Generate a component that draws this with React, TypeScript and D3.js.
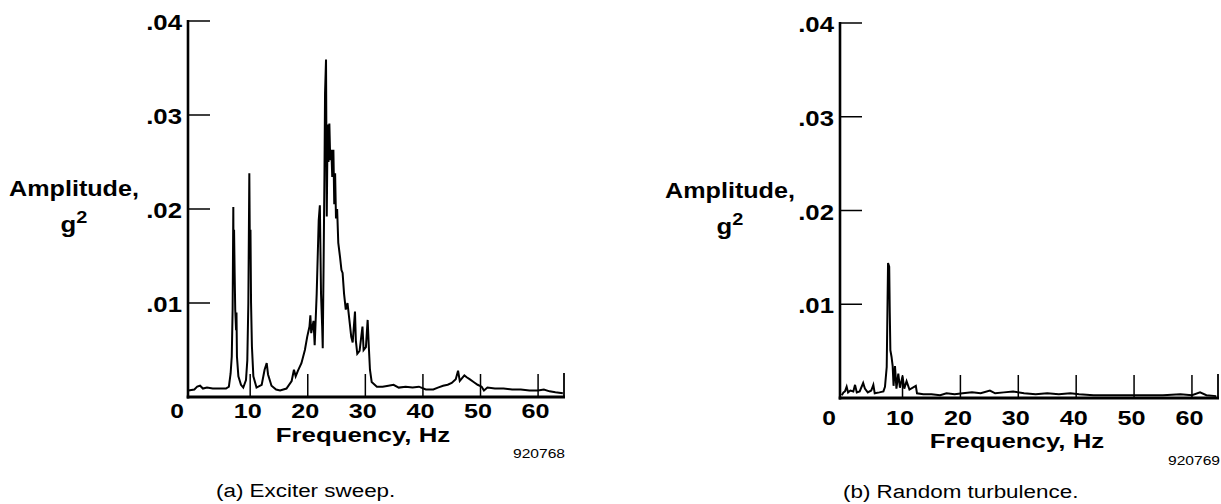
import React from "react";
import * as d3 from "d3";

// Power spectral density, exciter sweep (Hz, g^2)
const sweepHz = [
  -0.75, 0.3, 0.8, 1.3, 1.8, 2.5, 3.5, 4.8, 5.8, 6.3, 6.6, 6.8, 6.95, 7.07, 7.12, 7.2, 7.3, 7.4, 7.55, 7.62,
  7.7, 7.95, 8.4, 8.8, 9.27, 9.5, 9.68, 9.85, 9.95, 10.05, 10.15, 10.3, 10.55, 11.1, 12.0, 12.5, 12.87, 13.1,
  13.7, 14.5, 15.2, 16.3, 17.2, 17.6, 17.9, 18.3, 18.9, 19.5, 19.9, 20.3, 20.45, 20.6, 21.0, 21.2, 21.55, 21.9,
  22.1, 22.3, 22.5, 22.6, 22.75, 22.9, 23.0, 23.17, 23.3, 23.45, 23.6, 23.75, 23.9, 24.1, 24.25, 24.45, 24.6,
  24.75, 24.9, 25.1, 25.3, 25.6, 25.85, 26.05, 26.3, 26.6, 26.9, 27.3, 27.55, 27.8, 28.2, 28.35, 28.6, 29.0,
  29.5, 29.7, 30.1, 30.4, 30.6, 30.8, 31.1, 32.0, 33.0, 34.0, 34.9, 35.8, 37.0, 38.2, 39.3, 40.5, 41.8, 42.6,
  43.5, 44.3, 45.0, 45.7, 46.1, 46.4, 46.8, 47.2, 47.6, 48.1, 48.8, 49.5, 50.2, 50.6, 51.2, 52.5, 54.0, 55.5,
  57.0, 58.5, 60.0, 61.0, 62.0, 63.0, 64.3,
];
const sweepG2 = [
  0.0007, 0.0008, 0.0011, 0.0012, 0.0009, 0.001, 0.0009, 0.0009, 0.0009, 0.0011, 0.0025, 0.0043, 0.0093, 0.0202,
  0.012, 0.0178, 0.0132, 0.0093, 0.0071, 0.009, 0.0043, 0.0022, 0.0013, 0.001, 0.0018, 0.0039, 0.01, 0.0238,
  0.015, 0.0178, 0.01, 0.0054, 0.0022, 0.001, 0.0013, 0.0029, 0.0036, 0.0024, 0.0012, 0.0008, 0.0007, 0.0009,
  0.0017, 0.0029, 0.0022, 0.0028, 0.0036, 0.005, 0.0064, 0.0075, 0.0087, 0.0068, 0.0081, 0.0055, 0.011, 0.0188,
  0.0204, 0.011, 0.0075, 0.0052, 0.0142, 0.0238, 0.0323, 0.0359, 0.0192, 0.029, 0.025, 0.0291, 0.0252, 0.0263,
  0.0234, 0.0263, 0.0205, 0.0238, 0.019, 0.02, 0.0164, 0.0149, 0.0135, 0.0132, 0.011, 0.0093, 0.01, 0.0078,
  0.0064, 0.0058, 0.0091, 0.006, 0.0046, 0.0049, 0.0075, 0.005, 0.0053, 0.0082, 0.0054, 0.0029, 0.0016, 0.0011,
  0.0011, 0.0012, 0.0013, 0.001, 0.0011, 0.001, 0.0011, 0.0008, 0.0008, 0.001, 0.0012, 0.0013, 0.0015, 0.0019,
  0.0028, 0.0017, 0.002, 0.0023, 0.0021, 0.0019, 0.0016, 0.0013, 0.0011, 0.0007, 0.001, 0.0009, 0.0009, 0.0008,
  0.0008, 0.0007, 0.0007, 0.0008, 0.0006, 0.0005, 0.0004,
];

// Power spectral density, random turbulence (Hz, g^2)
const turbHz = [
  -0.5, -0.2, 0.06, 0.35, 0.6, 1.0, 1.5, 1.8, 2.1, 2.6, 3.2, 3.5, 4.0, 4.6, 4.96, 5.2, 6.0, 6.7, 6.97, 7.27, 7.5,
  7.7, 7.8, 7.9, 8.1, 8.3, 8.45, 8.7, 8.95, 9.27, 9.55, 10.0, 10.3, 10.7, 11.2, 12.3, 12.5, 13.6, 15.0, 16.5,
  17.6, 19.0, 20.4, 22.0, 23.5, 25.1, 26.0, 27.5, 29.1, 31.0, 33.0, 35.0, 37.0, 39.0, 40.5, 43.0, 46.0, 49.0,
  52.0, 55.0, 58.0, 60.0, 61.4, 62.5, 64.2,
];
const turbG2 = [
  0.0003, 0.0006, 0.0007, 0.0012, 0.0006, 0.0008, 0.0007, 0.0014, 0.0006, 0.0007, 0.0016, 0.001, 0.0006, 0.0008,
  0.0014, 0.0005, 0.0006, 0.0007, 0.0012, 0.0033, 0.0144, 0.014, 0.009, 0.0051, 0.0044, 0.0034, 0.0013, 0.0034,
  0.001, 0.0026, 0.0011, 0.0023, 0.001, 0.0018, 0.0009, 0.0013, 0.0005, 0.0004, 0.0004, 0.0003, 0.0005, 0.0004,
  0.0005, 0.0006, 0.0005, 0.0008, 0.0005, 0.0006, 0.0007, 0.0005, 0.0004, 0.0005, 0.0004, 0.0005, 0.0004, 0.0003,
  0.0003, 0.0003, 0.0003, 0.0003, 0.0004, 0.0003, 0.0006, 0.0003, 0.0002,
];

const yTicks = [0.01, 0.02, 0.03, 0.04];
const yTickLabels = [".01", ".02", ".03", ".04"];
const xTicks = [10, 20, 30, 40, 50, 60];
const xTickLabels = ["10", "20", "30", "40", "50", "60"];
const xDomain: [number, number] = [-0.8, 64.5];
const yDomain: [number, number] = [0, 0.04];

const FONT = "'Liberation Sans', Arial, Helvetica, sans-serif";
const STRETCH = 1.17;

function Txt(props: {
  x: number;
  y: number;
  anchor?: "start" | "middle" | "end";
  size: number;
  bold?: boolean;
  sx?: number;
  children: React.ReactNode;
}) {
  const { x, y, anchor = "start", size, bold = true, sx = STRETCH, children } = props;
  return (
    <text
      transform={`translate(${x},${y}) scale(${sx},1)`}
      textAnchor={anchor}
      fontSize={size}
      fontWeight={bold ? 700 : 400}
      fontFamily={FONT}
      fill="#000"
    >
      {children}
    </text>
  );
}

type PanelProps = {
  hz: number[];
  g2: number[];
  left: number;
  right: number;
  top: number;
  bottom: number;
  ampX: number;
  ampY: number;
  xLabelY: number;
  freqX: number;
  freqY: number;
  idX: number;
  idY: number;
  id: string;
  capX: number;
  capY: number;
  caption: string;
};

function Panel(p: PanelProps) {
  const x = d3.scaleLinear().domain(xDomain).range([p.left, p.right]);
  const y = d3.scaleLinear().domain(yDomain).range([p.bottom, p.top]);
  const line = d3
    .line<number>()
    .x((_, i) => x(p.hz[i]))
    .y((d) => y(d));
  const tickLen = 22;
  return (
    <g>
      <path d={line(p.g2) ?? ""} fill="none" stroke="#000" strokeWidth={2} strokeLinejoin="miter" />
      {/* y axis and left ticks */}
      <line x1={p.left} x2={p.left} y1={y(0.04) - 1} y2={p.bottom + 1.5} stroke="#000" strokeWidth={2.6} />
      {yTicks.map((t, i) => (
        <g key={t}>
          <line x1={p.left} x2={p.left + tickLen} y1={y(t)} y2={y(t)} stroke="#000" strokeWidth={1.5} />
          <Txt x={p.left - 6} y={y(t) + 9} anchor="end" size={22}>
            {yTickLabels[i]}
          </Txt>
        </g>
      ))}
      {/* x axis, ticks and end cap */}
      <line x1={p.left - 1.3} x2={p.right + 1} y1={p.bottom} y2={p.bottom} stroke="#000" strokeWidth={3} />
      {xTicks.map((t) => (
        <line key={t} x1={x(t)} x2={x(t)} y1={p.bottom} y2={p.bottom - 23} stroke="#000" strokeWidth={1.5} />
      ))}
      <line x1={x(xDomain[1])} x2={x(xDomain[1])} y1={p.bottom + 1} y2={p.bottom - 24} stroke="#000" strokeWidth={1.8} />
      <Txt x={p.left - 11} y={p.xLabelY} anchor="middle" size={21}>
        0
      </Txt>
      {xTicks.map((t, i) => (
        <Txt key={t} x={x(t) - 2.5} y={p.xLabelY} anchor="middle" size={21} sx={1.2}>
          {xTickLabels[i]}
        </Txt>
      ))}
      <Txt x={p.freqX} y={p.freqY} anchor="middle" size={20.5} sx={1.26}>
        Frequency, Hz
      </Txt>
      <Txt x={p.ampX} y={p.ampY} anchor="middle" size={21.5}>
        Amplitude,
      </Txt>
      <Txt x={p.ampX} y={p.ampY + 36} anchor="middle" size={22}>
        g<tspan dy={-9} fontSize={17}>2</tspan>
      </Txt>
      <Txt x={p.idX} y={p.idY} anchor="end" size={13} bold={false} sx={1.2}>
        {p.id}
      </Txt>
      <Txt x={p.capX} y={p.capY} anchor="start" size={19} bold={false} sx={1.18}>
        {p.caption}
      </Txt>
    </g>
  );
}

export default function App() {
  return (
    <svg
      width={1221}
      height={504}
      viewBox="0 0 1221 504"
      style={{ position: "absolute", left: 0, top: 0, background: "#fff" }}
    >
      <rect width={1221} height={504} fill="#fff" />
      <Panel
        hz={sweepHz}
        g2={sweepG2}
        left={188}
        right={564}
        top={21}
        bottom={397}
        ampX={74}
        ampY={196}
        xLabelY={418}
        freqX={363}
        freqY={441.5}
        idX={565}
        idY={458}
        id="920768"
        capX={216}
        capY={497}
        caption="(a) Exciter sweep."
      />
      <Panel
        hz={turbHz}
        g2={turbG2}
        left={840}
        right={1218}
        top={23}
        bottom={398}
        ampX={730}
        ampY={198}
        xLabelY={425}
        freqX={1017}
        freqY={448}
        idX={1220}
        idY={465}
        id="920769"
        capX={843}
        capY={498}
        caption="(b) Random turbulence."
      />
    </svg>
  );
}
